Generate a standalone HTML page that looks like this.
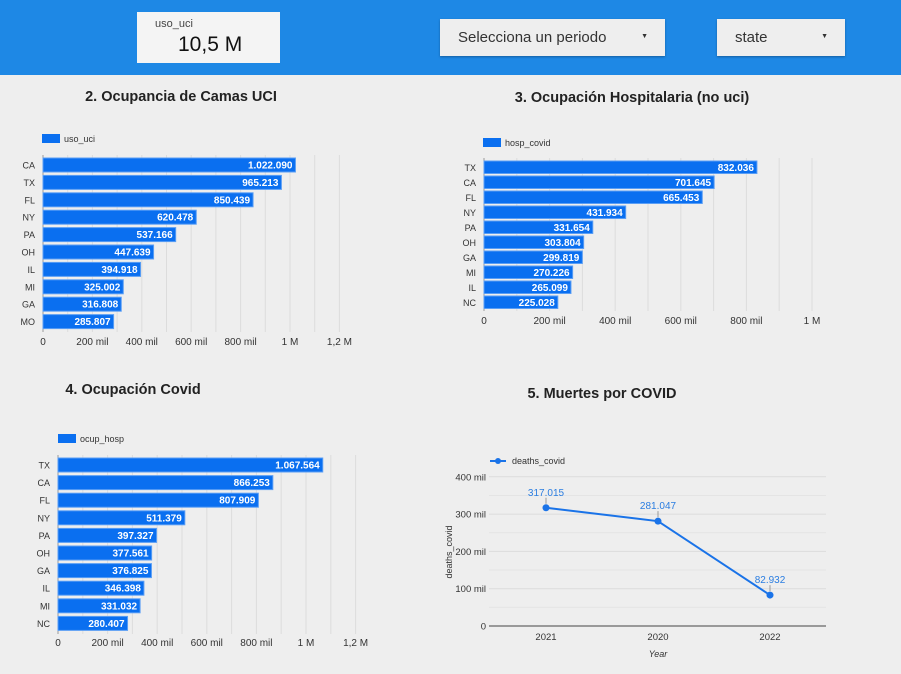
<!DOCTYPE html>
<html><head><meta charset="utf-8"><style>
body{margin:0;width:901px;height:674px;background:#eeeeee;font-family:"Liberation Sans",sans-serif;position:relative;overflow:hidden}
.hdr{position:absolute;left:0;top:0;width:901px;height:75px;background:#1e88e5}
.card{position:absolute;background:#f4f4f4}
.dd{position:absolute;background:#eeeeee;box-shadow:0 1px 2px rgba(0,0,0,.3);font-size:15px;color:#333}
.title{position:absolute;font-weight:bold;font-size:14.5px;color:#222;transform:translateX(-50%);white-space:nowrap}
svg{position:absolute;left:0;top:0}
</style></head><body>
<div class="hdr"></div>
<div class="card" style="left:137px;top:12px;width:143px;height:51px">
 <div style="position:absolute;left:18px;top:6px;font-size:11px;color:#444">uso_uci</div>
 <div style="position:absolute;left:41px;top:21px;font-size:21px;color:#111">10,5 M</div>
</div>
<div class="dd" style="left:440px;top:19px;width:225px;height:37px"><span style="position:absolute;left:18px;top:10px">Selecciona un periodo</span><span style="position:absolute;right:17px;top:14px;font-size:7px">▼</span></div>
<div class="dd" style="left:717px;top:19px;width:128px;height:37px"><span style="position:absolute;left:18px;top:10px">state</span><span style="position:absolute;right:17px;top:14px;font-size:7px">▼</span></div>
<div class="title" style="left:181px;top:89px">2. Ocupancia de Camas UCI</div>
<div class="title" style="left:632px;top:90px">3. Ocupación Hospitalaria (no uci)</div>
<div class="title" style="left:133px;top:382px">4. Ocupación Covid</div>
<div class="title" style="left:602px;top:386px">5. Muertes por COVID</div>
<svg id="s" width="901" height="674" font-family="Liberation Sans, sans-serif"></svg>
<script>
const c1Cats=["CA","TX","FL","NY","PA","OH","IL","MI","GA","MO"];
const c1Vals=[1022090,965213,850439,620478,537166,447639,394918,325002,316808,285807];
const c2Cats=["TX","CA","FL","NY","PA","OH","GA","MI","IL","NC"];
const c2Vals=[832036,701645,665453,431934,331654,303804,299819,270226,265099,225028];
const c3Cats=["TX","CA","FL","NY","PA","OH","GA","IL","MI","NC"];
const c3Vals=[1067564,866253,807909,511379,397327,377561,376825,346398,331032,280407];
const c5Cats=["2021","2020","2022"];
const c5Vals=[317015,281047,82932];
const barTicks=["0","200 mil","400 mil","600 mil","800 mil","1 M","1,2 M"];
const barTicks2=["0","200 mil","400 mil","600 mil","800 mil","1 M"];
const lineTicks=["0","100 mil","200 mil","300 mil","400 mil"];
const NS="http://www.w3.org/2000/svg";const S=document.getElementById('s');
function mk(t,a,txt){const e=document.createElementNS(NS,t);for(const k in a)e.setAttribute(k,a[k]);if(txt!=null)e.textContent=txt;S.appendChild(e);return e;}
function fmt(v){return v.toLocaleString('de-DE');}
function hbar(o){
 const x=v=>o.x0+v/1e6*o.pxM;
 for(let g=0;g<=o.gmax;g++){const e=mk('line',{x1:x(g*1e5),x2:x(g*1e5),y1:o.y0-3,y2:o.y0+o.pitch*o.cats.length,stroke:g?'#dcdcdc':'#999','stroke-width':1});}
 o.ticks.forEach((t,i)=>{const e=mk('text',{x:x(i*2e5),y:o.ty,'font-size':10,'text-anchor':'middle',fill:'#333'},t);});
 const lg=mk('rect',{x:o.lx,y:o.ly,width:18,height:9,fill:'#0a6ff0'});
 const lt=mk('text',{x:o.lx+22,y:o.ly+8,'font-size':9,fill:'#333'},o.name);
 o.cats.forEach((c,i)=>{const y=o.y0+i*o.pitch;
  const r=mk('rect',{x:o.x0,y:y,width:x(o.vals[i])-o.x0,height:o.bh,fill:'#0a6ff0',stroke:'#5a9ef5','stroke-width':1});
  const t=mk('text',{x:x(o.vals[i])-3,y:y+o.bh/2+3.5,'font-size':10,'font-weight':'bold','text-anchor':'end',fill:'#fff'},fmt(o.vals[i]));
  const l=mk('text',{x:o.x0-8,y:y+o.bh/2+3.5,'font-size':9,'text-anchor':'end',fill:'#333'},c);
 });
}
hbar({cats:c1Cats,vals:c1Vals,x0:43,pxM:247,y0:158,pitch:17.4,bh:14,gmax:12,ticks:barTicks,ty:345,lx:42,ly:134,name:'uso_uci'});
hbar({cats:c2Cats,vals:c2Vals,x0:484,pxM:328,y0:161,pitch:15,bh:12.5,gmax:10,ticks:barTicks2,ty:324,lx:483,ly:138,name:'hosp_covid'});
hbar({cats:c3Cats,vals:c3Vals,x0:58,pxM:248,y0:458,pitch:17.6,bh:14,gmax:12,ticks:barTicks,ty:646,lx:58,ly:434,name:'ocup_hosp'});
const lx0=489,lx1=826,ly0=626,pyK=0.373/1000;
const ly=v=>ly0-v*pyK;const lxp=i=>546+i*112;
lineTicks.forEach((t,i)=>{const v=i*1e5;
 const g=mk('line',{x1:lx0,x2:lx1,y1:ly(v),y2:ly(v),stroke:i?'#dcdcdc':'#999','stroke-width':i?1:2});
 if(i<4){const h=mk('line',{x1:lx0,x2:lx1,y1:ly(v+5e4),y2:ly(v+5e4),stroke:'#e4e4e4'});}
 const e=mk('text',{x:486,y:ly(v)+3.5,'font-size':9.5,'text-anchor':'end',fill:'#333'},t);});
const yt=mk('text',{x:0,y:0,'font-size':9,'text-anchor':'middle',fill:'#333',transform:'translate(452,552) rotate(-90)'},'deaths_covid');
const xt=mk('text',{x:658,y:657,'font-size':9,'font-style':'italic','text-anchor':'middle',fill:'#333'},'Year');
const pl=mk('polyline',{points:c5Vals.map((v,i)=>lxp(i)+','+ly(v)).join(' '),fill:'none',stroke:'#1a73e8','stroke-width':2});
c5Cats.forEach((c,i)=>{const cx=lxp(i),cy=ly(c5Vals[i]);
 const p=mk('circle',{cx:cx,cy:cy,r:3.5,fill:'#1a73e8'});
 const k=mk('line',{x1:cx,x2:cx,y1:cy-4,y2:cy-10,stroke:'#999'});
 const t=mk('text',{x:cx,y:cy-12,'font-size':10,'text-anchor':'middle',fill:'#2a7de1'},fmt(c5Vals[i]));
 const x=mk('text',{x:cx,y:640,'font-size':9.5,'text-anchor':'middle',fill:'#333'},c);});
const ll=mk('line',{x1:490,x2:506,y1:461,y2:461,stroke:'#1a73e8','stroke-width':2});
const lc=mk('circle',{cx:498,cy:461,r:3,fill:'#1a73e8'});
const lt=mk('text',{x:512,y:464,'font-size':9,fill:'#333'},'deaths_covid');
</script>
</body></html>
